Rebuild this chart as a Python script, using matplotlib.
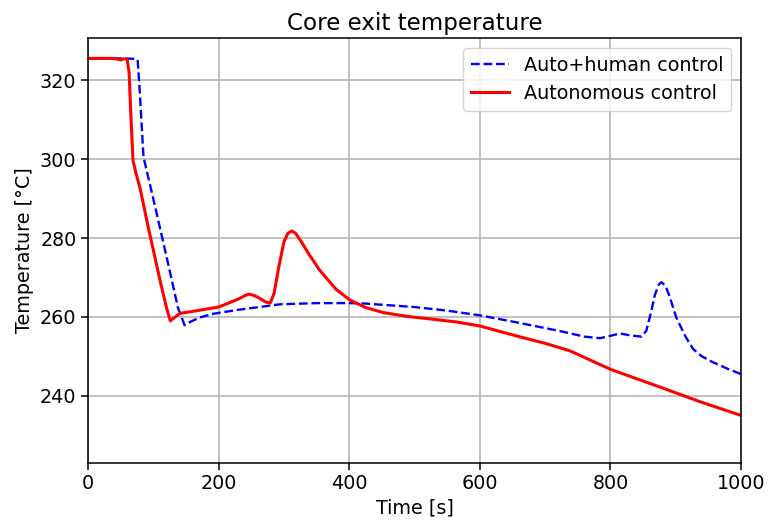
import matplotlib
matplotlib.use('Agg')
import matplotlib.pyplot as plt

# Auto+human control (blue dashed)
t_human = [0, 50, 70, 76, 79, 85, 100, 120, 138, 148, 155, 170, 192, 230, 294, 350, 400,
           424, 500, 550, 600, 660, 723, 760, 784, 800, 815, 830, 848, 855, 862, 868, 874, 878,
           884, 890, 901, 915, 927, 940, 957, 980, 1000]
T_human = [325.6, 325.6, 325.5, 325.3, 318.0, 300.6, 290.0, 275.5, 262.2, 257.9, 258.6, 259.8,
           260.8, 261.8, 263.2, 263.5, 263.5, 263.4, 262.5, 261.6, 260.4, 258.5, 256.4, 255.0,
           254.6, 255.2, 255.8, 255.3, 255.0, 256.5, 261.0, 265.5, 268.2, 268.8, 268.0, 265.5,
           259.8, 255.0, 251.8, 250.0, 248.5, 246.8, 245.5]

# Autonomous control (red solid)
t_auto = [0, 40, 50, 55, 60, 63, 66, 69, 73, 80, 92, 110, 120, 126, 132, 141, 160, 200, 230,
          240, 247, 255, 262, 272, 279, 285, 292, 300, 306, 312, 318, 325, 340, 355, 380,
          401, 425, 452, 490, 529, 565, 600, 660, 700, 738, 800, 886, 937, 1000]
T_auto = [325.6, 325.6, 325.2, 325.5, 325.4, 322.0, 310.0, 299.7, 296.8, 292.5, 283.0, 269.5,
          262.5, 259.0, 259.8, 260.9, 261.4, 262.5, 264.5, 265.4, 265.8, 265.4, 264.8, 263.8,
          263.5, 266.0, 272.5, 279.0, 281.2, 281.8, 281.2, 279.5, 275.5, 271.8, 267.0, 264.3,
          262.4, 261.1, 260.1, 259.4, 258.7, 257.7, 255.0, 253.3, 251.4, 246.7, 241.6, 238.5,
          235.0]

plt.rcParams['font.size'] = 13.8
plt.rcParams['axes.titlesize'] = 16.6

fig = plt.figure(figsize=(7.69, 5.29), dpi=100)
plt.subplots_adjust(left=0.1144, right=0.9636, top=0.9276, bottom=0.1253)
ax = plt.gca()

ax.plot(t_human, T_human, 'b--', lw=1.7, label='Auto+human control')
ax.plot(t_auto, T_auto, 'r-', lw=2.2, label='Autonomous control')

ax.set_xlim(0, 1000)
ax.set_ylim(223, 330.7)
ax.set_yticks([240, 260, 280, 300, 320])
ax.grid(True, color='#b0b0b0', lw=1.1)
ax.tick_params(width=1.1, length=4.8)
for s in ax.spines.values():
    s.set_linewidth(1.1)

ax.set_title('Core exit temperature')
ax.set_xlabel('Time [s]')
ax.set_ylabel('Temperature [°C]')
ax.legend(loc='upper right')

plt.savefig('out.png')
